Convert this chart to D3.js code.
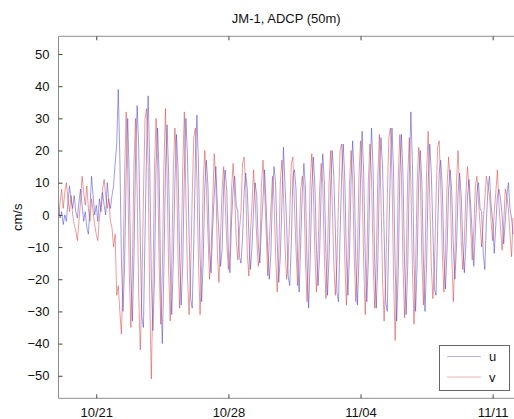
<!DOCTYPE html>
<html><head><meta charset="utf-8">
<script src="https://cdn.jsdelivr.net/npm/d3@7"></script>
<style>
body{margin:0;background:#fff;}
text{font-family:"Liberation Sans",Arial,Helvetica,sans-serif;fill:#111;}
</style>
</head><body>
<svg id="chart" width="514" height="419"></svg>
<script>
const title = "JM-1, ADCP (50m)";
const yLabel = "cm/s";
const seriesNames = ["u", "v"];
const startTime = "2010-10-19T00:00:00";
const stepHours = 2;
const xDomain = ["2010-10-19T00:00:00", "2010-11-12T03:07:00"];
const yDomain = [-57, 55.5];
const xTickDates = ["2010-10-21T00:00:00", "2010-10-28T00:00:00", "2010-11-04T00:00:00", "2010-11-11T00:00:00"];
const xTickLabels = ["10/21", "10/28", "11/04", "11/11"];
const yTicks = [-50, -40, -30, -20, -10, 0, 10, 20, 30, 40, 50];

const uValues = [
 3,-1,1,-3,0,-2, 4,9,5,2,6,1, -1,4,8,3,-2,1, -4,-6,2,12,6,0, 3,-2,5,1,7,3, 0,10,4,2,6,9,
 16,22,
 39,18,-14,-30,-16,13,
 30,11,-19,-33,-12,18,
 34,21,-8,-32,-35,-6,20,
 37,15,-19,-36,-20,15,
 27,12,-23,-40,-17,14,
 28,13,-15,-31,-14,10,
 25,14,-13,-28,-15,13,
 30,18,-6,-26,-29,-9,17,
 31,15,-13,-27,-14,9,
 17,9,-11,-18,-4,6,
 15,3,-6,-16,-11,9,
 14,7,-12,-18,-2,8,
 12,3,1,-13,-15,-7,7,
 13,8,-6,-17,-10,2,
 10,6,-9,-15,-4,5,
 14,3,-11,-20,-12,6,
 15,10,-8,-21,-13,3,
 21,9,-2,-19,-22,-9,12,
 14,8,-14,-24,-8,7,
 16,8,-15,-29,-14,8,
 18,9,-11,-22,-12,9,
 19,10,-12,-25,-13,9,
 20,12,-5,-24,-27,-6,12,
 22,11,-13,-25,-12,11,
 23,12,-14,-28,-14,11,
 26,13,-13,-27,-14,13,
 27,14,-15,-29,-14,13,
 24,15,-6,-27,-30,-6,15,
 27,13,-16,-33,-17,13,
 25,12,-15,-31,-16,12,
 32,16,-15,-30,-15,11,
 20,10,-15,-30,-15,10,
 22,13,-5,-23,-25,-5,13,
 17,8,-12,-23,-11,8,
 14,7,-10,-20,-10,7,
 13,6,-9,-18,-9,6,
 11,3,-6,-16,-5,7,
 10,2,1,-12,-17,-2,8,
 12,3,-2,-12,-3,6,
 8,5,0,-9,-2,6,
 10,2,-1,-6
];

const vValues = [
 -1,4,8,2,7,10, 5,1,6,0,-3,-5, -8,-2,4,12,7,3, 9,2,-2,5,1,-3, -6,-8,-1,3,8,11, 6,2,5,-2,-4,-10,
 -6,-25,
 -22,-30,-37,-19,12,32,
 14,-18,-35,-16,16,30,
 7,-25,-42,-24,6,30,33,
 15,-26,-51,-24,14,30,
 17,-16,-34,-18,15,33,
 13,-17,-33,-15,14,27,
 16,-14,-29,-13,15,32,
 5,-19,-31,-18,6,24,27,
 11,-15,-31,-16,10,20,
 9,-6,-20,-12,4,19,
 11,-12,-21,-7,8,15,
 4,-9,-17,-11,8,16,
 6,-8,-14,-5,1,16,18,
 9,-12,-19,-6,3,14,
 5,-7,-16,-12,9,17,
 8,-5,-19,-8,2,12,
 5,-12,-24,-14,10,17,
 7,-10,-20,-14,0,16,18,
 3,-11,-22,-9,8,12,
 9,-14,-27,-13,10,19,
 8,-12,-24,-12,8,16,
 10,-13,-26,-13,10,20,
 4,-15,-25,-15,4,20,22,
 10,-14,-28,-14,10,20,
 11,-13,-27,-14,12,23,
 11,-15,-31,-16,11,22,
 12,-14,-29,-15,12,25,
 5,-20,-33,-20,5,24,27,
 12,-19,-39,-20,12,25,
 12,-16,-32,-16,12,24,
 10,-17,-34,-17,10,21,
 13,-14,-28,-14,13,26,
 5,-16,-26,-16,5,21,23,
 9,-12,-24,-12,9,18,
 10,-13,-27,-13,10,20,
 7,-8,-17,-8,7,15,
 8,-4,-14,-5,9,12,
 4,-3,-10,-2,5,12,9,
 6,-2,-8,1,7,14,
 3,-4,-11,-3,8,6,
 2,-6,-13,-1
];

const colors = {u: "#3434d6", v: "#d83434"};
const legendColors = {u: "#b4b4ee", v: "#f0b0b0"};

const svg = d3.select("#chart");
const W = 514, H = 419;
const m = {left: 58.5, right: 514, top: 36.3, bottom: 398.3};

const t0 = new Date(startTime);
const times = uValues.map((_, i) => new Date(t0.getTime() + i * stepHours * 3600e3));

const x = d3.scaleTime().domain(xDomain.map(d => new Date(d))).range([m.left, m.right]);
const y = d3.scaleLinear().domain(yDomain).range([m.bottom, m.top]);

svg.append("rect").attr("width", W).attr("height", H).attr("fill", "#fff");

svg.append("clipPath").attr("id", "clip").append("rect")
  .attr("x", m.left).attr("y", m.top).attr("width", m.right - m.left).attr("height", m.bottom - m.top);

const line = d3.line().x((d, i) => x(times[i])).y(d => y(d));
const g = svg.append("g").attr("clip-path", "url(#clip)");
g.append("path").datum(uValues).attr("d", line).attr("fill", "none")
  .attr("stroke", colors.u).attr("stroke-width", 0.75).attr("stroke-opacity", 0.65);
g.append("path").datum(vValues).attr("d", line).attr("fill", "none")
  .attr("stroke", colors.v).attr("stroke-width", 0.75).attr("stroke-opacity", 0.65);

const axisColor = "#8c8c8c";
svg.append("line").attr("x1", m.left).attr("x2", m.right).attr("y1", m.top).attr("y2", m.top).attr("stroke", axisColor);
svg.append("line").attr("x1", m.left).attr("x2", m.right).attr("y1", m.bottom).attr("y2", m.bottom).attr("stroke", axisColor);
svg.append("line").attr("x1", m.left).attr("x2", m.left).attr("y1", m.top).attr("y2", m.bottom).attr("stroke", axisColor);

const yAxis = d3.axisLeft(y).tickValues(yTicks).tickSize(-4).tickPadding(9);
const ya = svg.append("g").attr("transform", `translate(${m.left},0)`).call(yAxis);
ya.select(".domain").remove();
ya.selectAll(".tick line").attr("stroke", "#444");
ya.selectAll("text").attr("font-size", 13).attr("font-family", "Liberation Sans, Arial, sans-serif").attr("fill", "#111");

const xAxis = d3.axisBottom(x).tickValues(xTickDates.map(d => new Date(d)))
  .tickFormat((d, i) => xTickLabels[i]).tickSize(-4).tickPadding(9);
const xa = svg.append("g").attr("transform", `translate(0,${m.bottom})`).call(xAxis);
xa.select(".domain").remove();
xa.selectAll(".tick line").attr("stroke", "#444");
xa.selectAll("text").attr("font-size", 13).attr("font-family", "Liberation Sans, Arial, sans-serif").attr("fill", "#111");

const xTop = d3.axisTop(x).tickValues(xTickDates.map(d => new Date(d))).tickFormat("").tickSize(-4);
const xt = svg.append("g").attr("transform", `translate(0,${m.top})`).call(xTop);
xt.select(".domain").remove();
xt.selectAll(".tick line").attr("stroke", "#444");

svg.append("text").attr("x", (m.left + m.right) / 2).attr("y", 23).attr("text-anchor", "middle")
  .attr("font-size", 13).text(title);

svg.append("text").attr("transform", `translate(22,${(m.top + m.bottom) / 2}) rotate(-90)`)
  .attr("text-anchor", "middle").attr("font-size", 13).text(yLabel);

const lg = svg.append("g");
lg.append("rect").attr("x", 439.5).attr("y", 345.5).attr("width", 70).attr("height", 45)
  .attr("fill", "#fff").attr("stroke", "#666").attr("stroke-width", 1);
seriesNames.forEach((s, i) => {
  const yy = 356.5 + i * 20.5;
  lg.append("line").attr("x1", 447).attr("x2", 481).attr("y1", yy).attr("y2", yy)
    .attr("stroke", legendColors[s]).attr("stroke-width", 1);
  lg.append("text").attr("x", 489).attr("y", yy + 4.5).attr("font-size", 13).text(s);
});
</script>
</body></html>
